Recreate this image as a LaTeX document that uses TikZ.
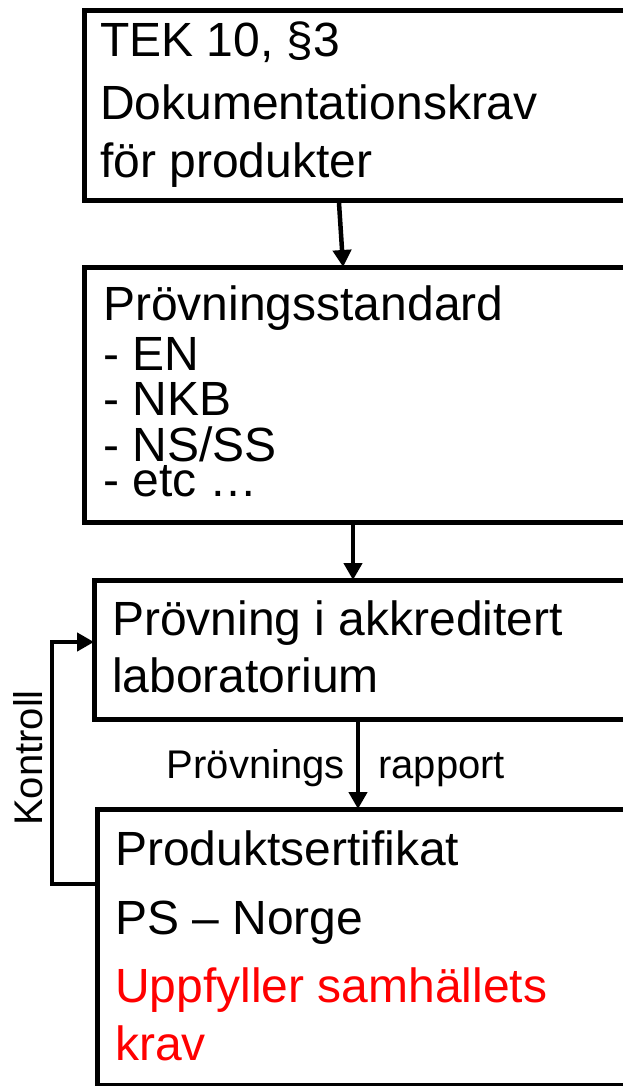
\documentclass[tikz,border=0pt]{standalone}
\usepackage{fontspec}
\setmainfont{Liberation Sans}
\usetikzlibrary{arrows.meta}
\begin{document}
\begin{tikzpicture}[x=1pt,y=-1pt,
  box/.style={draw,line width=5pt,inner sep=0pt,anchor=north west},
  txt/.style={anchor=base west,inner sep=0pt,font=\fontsize{48}{56}\selectfont},
  lbl/.style={inner sep=0pt,font=\fontsize{40}{48}\selectfont},
  arr/.style={line width=4.5pt,shorten >=-2pt,-{Triangle[length=17pt,width=18pt]}}]
\useasboundingbox (0,0) rectangle (623,1086);
\clip (0,0) rectangle (623,1086);
% boxes
\node[box,minimum width=542pt,minimum height=190pt] (b1) at (82,8) {};
\node[box,minimum width=542pt,minimum height=255pt] (b2) at (82,265) {};
\node[box,minimum width=532pt,minimum height=139pt] (b3) at (92,578) {};
\node[box,minimum width=529pt,minimum height=276pt] (b4) at (95,807) {};
% texts box 1
\node[txt] (t11) at (100,57) {TEK 10, §3};
\node[txt] (t12) at (100,120) {Dokumentationskrav};
\node[txt] (t13) at (100,178) {för produkter};
% texts box 2
\node[txt] (t21) at (103,320) {Prövningsstandard};
\node[txt] (t22) at (103,370) {- EN};
\node[txt] (t23) at (103,415) {- NKB};
\node[txt] (t24) at (103,461) {- NS/SS};
\node[txt] (t25) at (103,496) {- etc …};
% texts box 3
\node[txt] (t31) at (112,635) {Prövning i akkreditert};
\node[txt] (t32) at (112,692) {laboratorium};
% texts box 4
\node[txt] (t41) at (115,865) {Produktsertifikat};
\node[txt] (t42) at (115,934) {PS – Norge};
\node[txt,text=red] (t43) at (115,1002) {Uppfyller samhällets};
\node[txt,text=red] (t44) at (115,1060) {krav};
% connectors
\draw[arr] ([xshift=257pt]b1.south west) -- ([xshift=261pt]b2.north west);
\draw[arr] ([xshift=271pt]b2.south west) -- ([xshift=261pt]b3.north west);
\draw[arr] ([xshift=266pt]b3.south west) -- ([xshift=263pt]b4.north west);
\draw[arr] ([yshift=-77pt]b4.north west) -- ++(-43,0) |- ([yshift=-64pt]b3.north west);
% labels
\node[lbl,anchor=base east] (l1) at (345,778) {Prövnings};
\node[lbl,anchor=base west] (l2) at (378,778) {rapport};
\node[lbl,anchor=base,rotate=90] (l3) at (42,758) {Kontroll};
\end{tikzpicture}
\end{document}
